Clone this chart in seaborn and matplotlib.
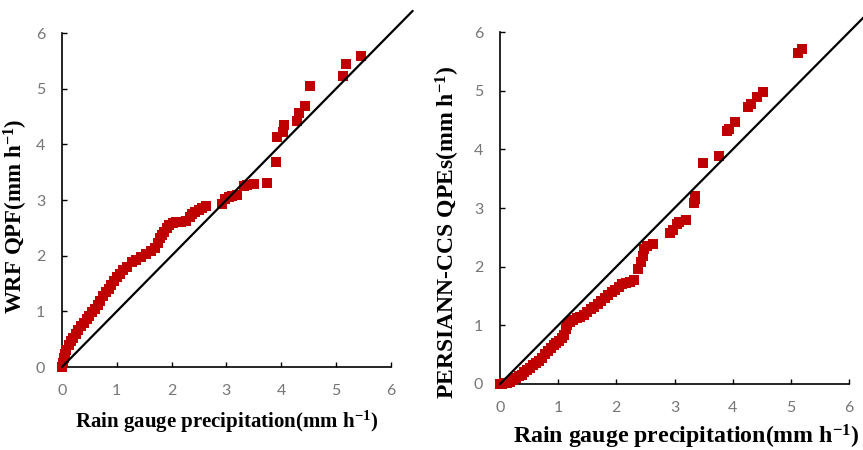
import matplotlib
matplotlib.use("Agg")
import matplotlib.pyplot as plt
import numpy as np
import pandas as pd
import seaborn as sns

# quantile pairs (mm h-1)
wrf_gauge = [0.00, 0.01, 0.03, 0.05, 0.08, 0.12, 0.16, 0.20, 0.25, 0.30, 0.35,
             0.40, 0.45, 0.50, 0.55, 0.60, 0.65, 0.70, 0.75, 0.80, 0.85, 0.90,
             0.95, 1.00, 1.06, 1.12, 1.19, 1.27, 1.35, 1.45, 1.54, 1.62, 1.70,
             1.75, 1.79, 1.83, 1.87, 1.91, 1.96, 2.02, 2.09, 2.18, 2.27, 2.33,
             2.38, 2.43, 2.50, 2.56, 2.63, 2.92, 2.97, 3.04, 3.10, 3.19, 3.33,
             3.38, 3.50, 3.74, 3.91, 3.93, 4.03, 4.05, 4.28, 4.33, 4.43, 4.52,
             5.13, 5.19, 5.45]
wrf_qpf = [0.00, 0.08, 0.16, 0.23, 0.30, 0.39, 0.46, 0.53, 0.60, 0.67, 0.73,
           0.79, 0.86, 0.92, 0.98, 1.05, 1.11, 1.19, 1.28, 1.35, 1.41, 1.48,
           1.55, 1.62, 1.68, 1.74, 1.80, 1.88, 1.93, 1.97, 2.03, 2.09, 2.13,
           2.22, 2.32, 2.38, 2.42, 2.50, 2.56, 2.59, 2.60, 2.61, 2.63, 2.69,
           2.75, 2.79, 2.83, 2.86, 2.89, 2.93, 3.02, 3.06, 3.08, 3.09, 3.25,
           3.27, 3.28, 3.31, 3.68, 4.13, 4.23, 4.35, 4.42, 4.56, 4.69, 5.05,
           5.23, 5.44, 5.59]

ccs_gauge = [0.00, 0.03, 0.07, 0.12, 0.17, 0.22, 0.27, 0.32, 0.37, 0.42, 0.47,
             0.52, 0.57, 0.62, 0.67, 0.72, 0.77, 0.82, 0.87, 0.92, 0.97, 1.02,
             1.07, 1.10, 1.13, 1.16, 1.20, 1.26, 1.32, 1.38, 1.44, 1.50, 1.56,
             1.62, 1.68, 1.74, 1.80, 1.86, 1.92, 1.98, 2.04, 2.10, 2.17, 2.24,
             2.31, 2.38, 2.42, 2.45, 2.48, 2.52, 2.63, 2.93, 2.98, 3.04, 3.08,
             3.19, 3.33, 3.35, 3.36, 3.49, 3.76, 3.91, 3.94, 4.04, 4.27, 4.31,
             4.42, 4.52, 5.13, 5.19]
ccs_qpe = [0.00, 0.00, 0.01, 0.02, 0.04, 0.07, 0.10, 0.13, 0.16, 0.20, 0.24,
           0.28, 0.32, 0.36, 0.40, 0.45, 0.51, 0.56, 0.61, 0.66, 0.70, 0.74,
           0.78, 0.84, 0.93, 1.01, 1.05, 1.09, 1.12, 1.15, 1.18, 1.22, 1.27,
           1.31, 1.36, 1.41, 1.46, 1.51, 1.56, 1.61, 1.66, 1.70, 1.73, 1.74,
           1.78, 1.96, 2.08, 2.18, 2.30, 2.35, 2.38, 2.58, 2.62, 2.72, 2.76,
           2.80, 3.08, 3.16, 3.20, 3.77, 3.88, 4.32, 4.35, 4.46, 4.72, 4.77,
           4.89, 4.97, 5.65, 5.72]

one_to_one = [0, 6.4]
ticks = [0, 1, 2, 3, 4, 5, 6]

sns.set_style("white")
plt.rcParams["mathtext.fontset"] = "custom"
plt.rcParams["mathtext.rm"] = "Liberation Serif:bold"
plt.rcParams["mathtext.bf"] = "Liberation Serif:bold"
plt.rcParams["mathtext.it"] = "Liberation Serif:bold"

red = "#c00000"
tick_grey = "#767676"

fig = plt.figure(figsize = (8.63, 4.5), dpi = 100)
ax1 = fig.add_axes([0.0718, 0.1844, 0.381, 0.742])
ax2 = fig.add_axes([0.5794, 0.1467, 0.4044, 0.782])

panels = [
    (ax1, wrf_gauge, wrf_qpf, "WRF QPF(mm h$^{-1}$)", 15, 16.5),
    (ax2, ccs_gauge, ccs_qpe, "PERSIANN-CCS QPEs(mm h$^{-1}$)", 17.2, 17),
]

for ax, x, y, ylab, xsize, ysize in panels:
    df = pd.DataFrame({"gauge": x, "est": y})
    sns.scatterplot(data = df, x = "gauge", y = "est", marker = "s", s = 52,
                    color = red, linewidth = 0, ax = ax, clip_on = False,
                    zorder = 3)
    ax.plot(one_to_one, one_to_one, color = "black", linewidth = 1.6,
            clip_on = False, zorder = 4)

    ax.set_xlim(0, 6)
    ax.set_ylim(0, 6)
    ax.set_xticks(ticks)
    ax.set_yticks(ticks)
    for side in ["top", "right"]:
        ax.spines[side].set_visible(False)
    for side in ["left", "bottom"]:
        ax.spines[side].set_color("black")
        ax.spines[side].set_linewidth(1.2)
    ax.tick_params(axis = "both", direction = "in", length = 3.5, width = 1,
                   color = "black", labelcolor = tick_grey, pad = 12,
                   bottom = True, left = True)
    for lab in ax.get_xticklabels() + ax.get_yticklabels():
        lab.set_fontfamily("Lato")
        lab.set_fontsize(11.5)

    ax.set_xlabel("Rain gauge precipitation(mm h$^{-1}$)", family = "Liberation Serif",
                  fontweight = "bold", fontsize = xsize, color = "black")
    ax.set_ylabel(ylab, family = "Liberation Serif", fontweight = "bold",
                  fontsize = ysize, color = "black")

ax1.xaxis.set_label_coords(0.5, -0.125)
ax1.yaxis.set_label_coords(-0.098, 0.45)
ax2.xaxis.set_label_coords(0.533, -0.11)
ax2.yaxis.set_label_coords(-0.108, 0.43)

fig.savefig("out.png", dpi = 100)
